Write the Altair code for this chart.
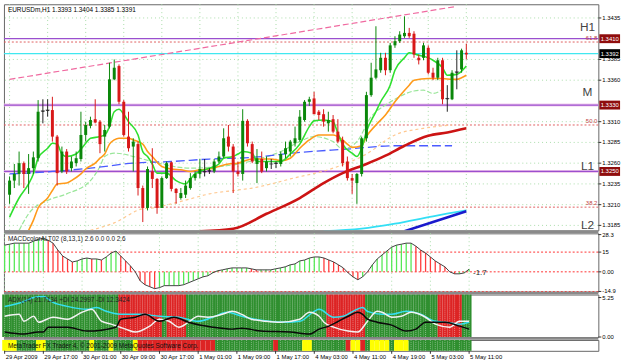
import altair as alt
import pandas as pd

# ---------------- data ----------------
opens = [1.3222,1.3239,1.3247,1.3260,1.3247,1.3254,1.3266,1.3322,1.3323,1.3324,
         1.3292,1.3250,1.3274,1.3254,1.3260,1.3265,1.3294,1.3305,1.3313,1.3310,
         1.3292,1.3304,1.3361,1.3377,1.3334,1.3292,1.3280,1.3283,1.3230,1.3206,
         1.3250,1.3241,1.3206,1.3242,1.3261,1.3229,1.3218,1.3222,1.3230,1.3242,
         1.3247,1.3249,1.3250,1.3250,1.3262,1.3268,1.3292,1.3280,1.3250,1.3247,
         1.3311,1.3283,1.3259,1.3265,1.3254,1.3259,1.3259,1.3259,1.3271,1.3274,
         1.3284,1.3288,1.3312,1.3334,1.3338,1.3322,1.3319,1.3308,1.3313,1.3298,
         1.3288,1.3262,1.3242,1.3236,1.3247,1.3290,1.3342,1.3363,1.3372,1.3387,
         1.3372,1.3402,1.3407,1.3413,1.3417,1.3416,1.3387,1.3387,1.3399,1.3369,
         1.3363,1.3384,1.3337,1.3337,1.3369,1.3373,1.3393]
highs = [1.3244,1.3259,1.3274,1.3262,1.3271,1.3274,1.3336,1.3337,1.3337,1.3340,
         1.3294,1.3280,1.3277,1.3268,1.3274,1.3322,1.3310,1.3316,1.3337,1.3312,
         1.3306,1.3381,1.3385,1.3379,1.3336,1.3322,1.3290,1.3286,1.3233,1.3256,
         1.3278,1.3242,1.3244,1.3262,1.3262,1.3230,1.3230,1.3239,1.3248,1.3250,
         1.3265,1.3265,1.3254,1.3265,1.3274,1.3302,1.3306,1.3283,1.3262,1.3325,
         1.3313,1.3286,1.3277,1.3274,1.3268,1.3265,1.3262,1.3274,1.3286,1.3288,
         1.3304,1.3324,1.3336,1.3340,1.3346,1.3324,1.3325,1.3322,1.3318,1.3313,
         1.3292,1.3268,1.3247,1.3248,1.3292,1.3346,1.3381,1.3425,1.3393,1.3393,
         1.3405,1.3413,1.3419,1.3437,1.3423,1.3419,1.3391,1.3405,1.3402,1.3375,
         1.3387,1.3387,1.3354,1.3372,1.3396,1.3398,1.3404]
lows = [1.3211,1.3230,1.3233,1.3230,1.3223,1.3247,1.3262,1.3308,1.3316,1.3286,
        1.3233,1.3248,1.3247,1.3250,1.3256,1.3262,1.3286,1.3302,1.3308,1.3272,
        1.3274,1.3302,1.3360,1.3331,1.3292,1.3274,1.3250,1.3221,1.3189,1.3203,
        1.3230,1.3199,1.3206,1.3241,1.3226,1.3211,1.3216,1.3218,1.3228,1.3239,
        1.3242,1.3244,1.3247,1.3248,1.3260,1.3266,1.3274,1.3224,1.3244,1.3239,
        1.3280,1.3260,1.3236,1.3248,1.3250,1.3253,1.3254,1.3256,1.3266,1.3268,
        1.3280,1.3286,1.3310,1.3329,1.3319,1.3312,1.3304,1.3298,1.3296,1.3284,
        1.3256,1.3239,1.3223,1.3211,1.3244,1.3286,1.3340,1.3361,1.3369,1.3366,
        1.3369,1.3399,1.3405,1.3411,1.3411,1.3387,1.3379,1.3384,1.3367,1.3360,
        1.3360,1.3331,1.3322,1.3336,1.3349,1.3369,1.3385]
closes = [1.3239,1.3247,1.3260,1.3247,1.3254,1.3267,1.3322,1.3323,1.3324,1.3292,
          1.3248,1.3274,1.3250,1.3262,1.3266,1.3294,1.3306,1.3312,1.3309,1.3283,
          1.3300,1.3361,1.3375,1.3334,1.3294,1.3278,1.3286,1.3230,1.3206,1.3253,
          1.3241,1.3206,1.3242,1.3260,1.3229,1.3224,1.3224,1.3233,1.3242,1.3247,
          1.3253,1.3250,1.3251,1.3262,1.3268,1.3290,1.3280,1.3250,1.3247,1.3311,
          1.3284,1.3262,1.3266,1.3250,1.3262,1.3259,1.3260,1.3271,1.3278,1.3286,
          1.3290,1.3316,1.3334,1.3337,1.3319,1.3318,1.3310,1.3312,1.3298,1.3286,
          1.3260,1.3242,1.3239,1.3247,1.3290,1.3342,1.3363,1.3373,1.3387,1.3372,
          1.3402,1.3407,1.3415,1.3417,1.3413,1.3391,1.3384,1.3402,1.3369,1.3363,
          1.3384,1.3337,1.3338,1.3369,1.3370,1.3396,1.3391]

x_labels = ["29 Apr 2009", "29 Apr 17:00", "30 Apr 01:00", "30 Apr 09:00", "30 Apr 17:00",
            "1 May 01:00", "1 May 09:00", "1 May 17:00", "4 May 03:00", "4 May 11:00",
            "4 May 19:00", "5 May 03:00", "5 May 11:00"]
x_label_bars = [0, 8, 16, 24, 32, 40, 48, 56, 64, 72, 80, 88, 96]
price_ticks = [1.3435, 1.3385, 1.3360, 1.3310, 1.3285, 1.3260, 1.3235, 1.3210, 1.3185]

# moving averages (sampled readings: bar index, price)
fast_bar = [0,2,4,5,6,8,9,10,11,12,14,15,16,17,19,20,21,22,23,24,25,27,28,29,30,31,33,35,37,38,
            39,40,42,44,45,47,48,49,51,52,54,57,59,61,63,64,66,68,69,70,72,73,74,75,77,78,80,81,83,84,
            86,88,89,91,92,94,96]
fast_val = [1.3195,1.3218,1.3235,1.3247,1.3266,1.3278,1.3284,1.3283,1.3271,1.3268,1.3271,1.3277,1.3284,1.3290,
            1.3292,1.3294,1.3304,1.3322,1.3325,1.3319,1.3310,1.3294,1.3274,1.3268,1.3259,1.3248,1.3248,1.3239,
            1.3235,1.3241,1.3247,1.3250,1.3254,1.3259,1.3266,1.3268,1.3271,1.3274,1.3272,1.3262,1.3262,1.3262,
            1.3271,1.3283,1.3304,1.3311,1.3312,1.3310,1.3296,1.3283,1.3272,1.3268,1.3278,1.3298,1.3322,1.3334,
            1.3354,1.3372,1.3387,1.3393,1.3390,1.3387,1.3384,1.3375,1.3366,1.3367,1.3377]
orange_bar = [4,5,6,8,9,10,12,13,15,16,18,19,20,21,22,23,25,26,28,29,30,32,34,36,38,40,42,44,46,48,
              49,51,53,55,57,59,61,63,65,67,68,70,71,72,74,75,77,79,81,84,85,88,91,93,94,95,96]
orange_val = [1.3179,1.3191,1.3206,1.3218,1.3227,1.3235,1.3236,1.3239,1.3247,1.3253,1.3260,1.3266,1.3271,
              1.3283,1.3288,1.3290,1.3290,1.3288,1.3283,1.3274,1.3268,1.3256,1.3253,1.3252,1.3250,1.3252,
              1.3253,1.3256,1.3259,1.3260,1.3262,1.3265,1.3265,1.3265,1.3263,1.3266,1.3278,1.3288,1.3294,
              1.3294,1.3294,1.3288,1.3283,1.3279,1.3281,1.3292,1.3306,1.3318,1.3334,1.3354,1.3360,1.3362,
              1.3362,1.3361,1.3361,1.3363,1.3366]
lgreen_bar = [2,4,8,12,17,19,20,22,24,26,28,32,38,42,49,53,57,61,64,68,70,73,76,79,81,85,87,89,91]
lgreen_val = [1.3179,1.3199,1.3215,1.3223,1.3239,1.3256,1.3268,1.3272,1.3271,1.3268,1.3265,1.3259,1.3254,
              1.3255,1.3260,1.3266,1.3274,1.3286,1.3292,1.3286,1.3277,1.3286,1.3316,1.3330,1.3337,1.3347,
              1.3348,1.3344,1.3349]
lorange_bar = [17,22,28,30,34,38,42,47,51,55,59,68,75,81,87,93]
lorange_val = [1.3179,1.3188,1.3205,1.3206,1.3211,1.3217,1.3223,1.3227,1.3230,1.3235,1.3241,1.3254,1.3271,
               1.3294,1.3302,1.3306]
red_bar = [40,47,54,61,66,70,75,79,83,88,92,96]
red_val = [1.3178,1.3181,1.3199,1.3218,1.3236,1.3248,1.3259,1.3269,1.3281,1.3293,1.3297,1.3302]
blue_bar = [0,9,17,26,34,42,51,61,71,81,93]
blue_val = [1.3247,1.3250,1.3254,1.3260,1.3262,1.3265,1.3267,1.3273,1.3277,1.3281,1.3281]
cyan_bar = [66,74,81,89,96]
cyan_val = [1.3178,1.3181,1.3187,1.3196,1.3203]
navy_bar = [83,89,96]
navy_val = [1.3178,1.3189,1.3202]
trend_bar = [0, 94]
trend_val = [1.3361, 1.3449]

level_names = ["H1", "61.8", "bid", "M", "50.0", "L1", "38.2"]
level_prices = [1.3410, 1.3406, 1.3392, 1.3330, 1.3306, 1.3250, 1.3207]
zone_names = ["H1", "M", "L1", "L2"]
zone_prices = [1.3424, 1.3346, 1.3256, 1.3185]
fib_names = ["61.8", "50.0", "38.2"]
fib_prices = [1.3406, 1.3306, 1.3207]
tag_text = ["1.3410", "1.3392", "1.3330", "1.3250"]
tag_kind = ["level", "bid", "level", "level"]

macd_vals = [20.3,21.0,21.8,21.8,21.8,21.8,23.3,24.8,25.5,24.0,
             21.8,16.5,12.0,9.8,7.5,8.3,9.8,10.5,9.8,9.8,
             9.0,11.3,14.3,15.8,12.0,8.3,4.5,0.0,-6.8,-9.8,
             -11.3,-12.8,-12.0,-10.5,-10.5,-10.5,-10.5,-9.8,-8.3,-6.8,
             -5.3,-3.8,-3.0,-0.8,0.8,1.5,2.3,3.0,3.0,3.0,
             3.0,2.3,1.5,1.5,1.5,1.5,2.3,3.0,3.8,5.3,
             6.0,8.3,9.0,10.5,11.3,11.3,10.5,9.0,7.5,5.3,
             3.0,-0.8,-3.8,-6.0,-3.8,0.0,5.3,9.8,12.8,15.8,
             18.8,20.3,21.0,21.8,21.8,19.5,16.5,14.3,11.3,8.3,
             6.0,3.8,0.0,-1.5,-1.5,-0.8,2.0]
macd_levels = [15, 0, -15]
macd_ticks = [28.3, 15, 0, -14.9]
macd_tick_text = ["28.3", "15", "0.00", "-14.9"]

adx_runs = [("G",24),("R",9),("G",1),("R",4),("G",29),("R",8),("G",15),("R",5),("G",2)]
cyan3_bar = [0,4,6,8,10,13,17,19,21,24,28,32,36,40,43,46,49,53,58,61,64,65,68,70,72,74,75,78,80,83,86,89,91,94,96]
cyan3_val = [4.07,4.73,5.26,5.39,4.60,4.07,3.68,3.94,3.42,3.02,3.02,2.76,2.63,2.10,2.63,3.29,2.76,2.23,1.97,2.10,
             3.42,3.68,2.63,2.76,3.42,3.94,3.42,3.02,3.02,3.42,3.02,2.10,1.97,1.71,1.97]
white3_bar = [0,3,4,6,7,10,13,16,18,20,22,25,27,30,32,34,36,38,40,42,45,47,49,51,54,57,61,63,65,66,
              68,71,73,75,77,78,80,82,84,87,89,92,94,96]
white3_val = [2.76,3.02,2.10,2.76,1.97,2.63,2.37,3.29,3.68,2.10,1.71,1.05,0.66,1.45,2.37,2.10,1.31,1.97,2.76,2.63,
              3.02,3.42,3.02,2.37,2.10,1.97,2.37,3.29,2.76,1.97,1.31,0.79,0.66,2.10,3.42,3.29,2.63,2.76,3.29,2.63,
              1.71,1.31,2.10,2.10]
black3_bar = [0,4,7,8,9,13,17,23,24,27,29,32,35,38,43,47,49,53,59,63,65,67,69,71,73,74,75,77,80,83,85,87,89,91,94,96]
black3_val = [0.66,0.39,0.66,0.66,1.31,1.31,0.79,1.31,2.37,2.63,3.02,2.10,2.63,1.97,1.31,1.05,1.18,0.79,0.66,0.39,
              1.05,1.45,2.10,2.76,3.29,3.02,2.37,1.97,1.58,0.79,1.05,1.97,1.97,1.97,1.45,1.05]
adx_ticks = [5.25, 0.0]
adx_tick_text = ["5.25", "0.00"]

trend_runs = [("Y",3),("G",4),("Y",2),("G",9),("Y",1),("G",3),("Y",1),("G",4),("Y",1),("R",16),("G",12),("R",1),
              ("G",5),("Y",2),("G",7),("R",1),("Y",2),("R",1),("G",1),("Y",4),("G",1),("Y",3),("G",13)]

symbol_title = "EURUSDm,H1"
macd_title = "MACDcolorALT02 (8,13,1) 2.6 0.0 0.0 2.6"
adx_title = "ADX(14) 21.7134 +DI 24.2997 -DI 12.3424"
trend_title = "MetaTrader FX Trader 4, \u00a9 2001-2009 MetaQuotes Software Corp."
macd_last_label = "-1.7"

# ---------------- chart ----------------
FONT = "Liberation Sans Narrow, Liberation Sans, sans-serif"
FS = 6
FT = 6.5
W = 602
XDOM = [-0.143, 122.71]
PDOM = [1.3179, 1.34515]
xs = alt.Scale(domain=XDOM, nice=False, zero=False)
ys = alt.Scale(domain=PDOM, nice=False, zero=False)
GRID = "#a9dca9"
SEP = "#8a8a8a"
UP, DOWN, DOJI = "#0a870a", "#d81818", "#222222"
STATE_COL = {"G": "#2f8f2f", "R": "#dd2424", "Y": "#ffff00"}


def xq(field="i"):
    return alt.X(f"{field}:Q", scale=xs, axis=None)


def yq(field, scale=ys):
    return alt.Y(f"{field}:Q", scale=scale, axis=None)


def right_labels(values, texts, scale, fs=FS):
    d = pd.DataFrame({"v": values, "t": texts})
    tk = alt.Chart(d).mark_rule(color="#333", strokeWidth=1, clip=False).encode(
        x=alt.value(602), x2=alt.value(605), y=yq("v", scale))
    tx = alt.Chart(d).mark_text(font=FONT, fontSize=fs, color="#000", align="left",
                                baseline="middle", clip=False).encode(
        x=alt.value(606), y=yq("v", scale), text="t:N")
    return [tk, tx]


def separator(h):
    # grey band drawn in the gap under a panel
    return alt.Chart(pd.DataFrame({"k": [0]})).mark_rule(color=SEP, strokeWidth=2.5, clip=False).encode(
        x=alt.value(0), x2=alt.value(W), y=alt.value(h + 1.5))


n = len(opens)
idx = list(range(n))
df = pd.DataFrame({"i": idx, "o": opens, "h": highs, "l": lows, "c": closes})
df["col"] = [DOJI if abs(c - o) < 0.00015 else (UP if c > o else DOWN) for o, c in zip(opens, closes)]
df["doji"] = [abs(c - o) < 0.00015 for o, c in zip(opens, closes)]

vgrid = alt.Chart(pd.DataFrame({"i": x_label_bars})).mark_rule(
    color=GRID, strokeDash=[1, 3], strokeWidth=1).encode(x=xq())
hgrid = alt.Chart(pd.DataFrame({"p": price_ticks})).mark_rule(
    color=GRID, strokeDash=[1, 3], strokeWidth=1).encode(y=yq("p"))

wicks = alt.Chart(df).mark_rule(strokeWidth=1).encode(
    x=xq(), y=yq("l"), y2="h:Q", color=alt.Color("col:N", scale=None))
bodies = alt.Chart(df).mark_bar(size=3, orient="vertical").encode(
    x=xq(), y=yq("o"), y2="c:Q", color=alt.Color("col:N", scale=None))
dojis = alt.Chart(df).transform_filter("datum.doji").mark_tick(
    thickness=1, size=4, orient="horizontal", color=DOJI).encode(x=xq(), y=yq("c"))


def line_layer(bars, vals, color, width, dash=None, opacity=1.0):
    d = pd.DataFrame({"i": bars, "p": vals})
    kw = dict(color=color, strokeWidth=width, clip=True, interpolate="monotone", opacity=opacity)
    if dash:
        kw["strokeDash"] = dash
    return alt.Chart(d).mark_line(**kw).encode(x=xq(), y=yq("p"))


lv = pd.DataFrame({"name": level_names, "p": level_prices})


def level_rule(names, color, width, dash=None, opacity=1.0):
    kw = dict(color=color, strokeWidth=width, opacity=opacity)
    if dash:
        kw["strokeDash"] = dash
    return alt.Chart(lv).transform_filter(
        alt.FieldOneOfPredicate(field="name", oneOf=names)).mark_rule(**kw).encode(y=yq("p"))


halo = level_rule(["M", "L1"], "#efc4ea", 3, opacity=0.9)
purple = level_rule(["H1", "M", "L1"], "#9a4fcf", 1.2)
fibs = level_rule(["61.8", "50.0", "38.2"], "#e06060", 1, dash=[2, 2])
bid = level_rule(["bid"], "#40e8f0", 1.2)

trend = line_layer(trend_bar, trend_val, "#f06aa0", 1.2, dash=[6, 3])
lorange = line_layer(lorange_bar, lorange_val, "#ffc890", 1.2, dash=[3, 3])
lgreen = line_layer(lgreen_bar, lgreen_val, "#99e699", 1.2, dash=[5, 2])
blue = line_layer(blue_bar, blue_val, "#4a5cff", 1.3, dash=[9, 4])
red = line_layer(red_bar, red_val, "#cc1414", 2.6)
cyan = line_layer(cyan_bar, cyan_val, "#33dff5", 1.8)
navy = line_layer(navy_bar, navy_val, "#1a1acc", 2.6)
orange = line_layer(orange_bar, orange_val, "#ff9a1a", 1.6)
fast = line_layer(fast_bar, fast_val, "#2fe02f", 1.6)

zones = alt.Chart(pd.DataFrame({"t": zone_names, "p": zone_prices})).mark_text(
    font="Liberation Sans", fontSize=12, color="#444", align="center", baseline="middle").encode(
    x=alt.value(591), y=yq("p"), text="t:N")
fibtxt = alt.Chart(pd.DataFrame({"t": fib_names, "p": fib_prices})).mark_text(
    font=FONT, fontSize=FS, color="#c04040", align="right", baseline="bottom", dy=-1).encode(
    x=alt.value(601), y=yq("p"), text="t:N")
tags = pd.DataFrame({"t": tag_text, "kind": tag_kind})
tags["p"] = [float(t) for t in tag_text]
tags["bg"] = ["#000000" if k == "bid" else "#8f0d0d" for k in tag_kind]
tag_bg = alt.Chart(tags).mark_rule(strokeWidth=9, clip=False).encode(
    x=alt.value(603), x2=alt.value(624), y=yq("p"), color=alt.Color("bg:N", scale=None))
tag_tx = alt.Chart(tags).mark_text(font=FONT, fontSize=FS, color="white", align="center",
                                   baseline="middle", clip=False).encode(
    x=alt.value(613.5), y=yq("p"), text="t:N")
title_txt = alt.Chart(pd.DataFrame({"t": [f"{symbol_title}  {opens[-1]:.4f} {highs[-1]:.4f} {lows[-1]:.4f} {closes[-1]:.4f}"]})).mark_text(
    font=FONT, fontSize=FT, color="#000", align="left", baseline="middle").encode(
    x=alt.value(4), y=alt.value(6), text="t:N")

H_MAIN, H_MACD, H_ADX, H_TR = 229, 59, 43, 11

main = alt.layer(vgrid, hgrid, halo, purple, fibs, bid, trend, lorange, lgreen, blue, red, cyan, navy,
                 orange, fast, wicks, bodies, dojis, zones, fibtxt,
                 *right_labels(price_ticks, [f"{p:.4f}" for p in price_ticks], ys),
                 tag_bg, tag_tx, title_txt, separator(H_MAIN)).properties(width=W, height=H_MAIN)

# MACD panel
mscale = alt.Scale(domain=[-15, 29.25], nice=False, zero=False)
mdf = pd.DataFrame({"i": idx, "v": macd_vals})
mdf["z"] = 0.0
mdf["col"] = ["#55e855" if k == 0 or macd_vals[k] >= macd_vals[k - 1] else "#ff3a3a" for k in range(n)]
mgrid = alt.Chart(pd.DataFrame({"i": x_label_bars})).mark_rule(
    color=GRID, strokeDash=[1, 3], strokeWidth=1).encode(x=xq())
hist = alt.Chart(mdf).mark_rule(strokeWidth=1.3).encode(
    x=xq(), y=yq("v", mscale), y2="z:Q", color=alt.Color("col:N", scale=None))
mline = alt.Chart(mdf).mark_line(color="#404040", strokeWidth=1).encode(x=xq(), y=yq("v", mscale))
mlev = alt.Chart(pd.DataFrame({"v": macd_levels})).mark_rule(
    color="#ff3030", strokeDash=[2, 2], strokeWidth=1).encode(y=yq("v", mscale))
mtitle = alt.Chart(pd.DataFrame({"t": [macd_title]})).mark_text(
    font=FONT, fontSize=FT, color="#222", align="left", baseline="middle").encode(
    x=alt.value(4), y=alt.value(6), text="t:N")
mlast = alt.Chart(pd.DataFrame({"t": [macd_last_label], "i": [n - 1], "v": [macd_vals[-1]]})).mark_text(
    font="Liberation Sans", fontSize=8, color="#222", align="left", baseline="middle", dx=4, dy=4).encode(
    x=xq(), y=yq("v", mscale), text="t:N")
macd = alt.layer(mgrid, mlev, hist, mline, mtitle, mlast,
                 *right_labels(macd_ticks, macd_tick_text, mscale),
                 separator(H_MACD)).properties(width=W, height=H_MACD)


# ADX-like panel
def expand(runs):
    out = []
    for s, k in runs:
        out += [s] * k
    return out


adf = pd.DataFrame({"i": idx, "s": expand(adx_runs)})
adf["col"] = [STATE_COL[s] for s in adf["s"]]
ascale = alt.Scale(domain=[0, 5.65], nice=False, zero=False)
acol = alt.Chart(adf).transform_calculate(a="datum.i - 0.5", b="datum.i + 0.5").mark_rect().encode(
    x=xq("a"), x2="b:Q", y=alt.value(0), y2=alt.value(H_ADX), color=alt.Color("col:N", scale=None))
astripe = alt.Chart(adf).mark_rule(color="white", strokeWidth=0.8, strokeDash=[1, 1], opacity=0.55).encode(
    x=xq(), y=alt.value(0), y2=alt.value(H_ADX))
acyan = alt.Chart(pd.DataFrame({"i": cyan3_bar, "v": cyan3_val})).mark_line(
    color="#33e0f0", strokeWidth=1.5, interpolate="monotone").encode(x=xq(), y=yq("v", ascale))
awhite = alt.Chart(pd.DataFrame({"i": white3_bar, "v": white3_val})).mark_line(
    color="#f2f2f2", strokeWidth=1.5, interpolate="monotone").encode(x=xq(), y=yq("v", ascale))
ablack = alt.Chart(pd.DataFrame({"i": black3_bar, "v": black3_val})).mark_line(
    color="#0a0a0a", strokeWidth=1.5, interpolate="monotone").encode(x=xq(), y=yq("v", ascale))
atitle = alt.Chart(pd.DataFrame({"t": [adx_title]})).mark_text(
    font=FONT, fontSize=FT, color="#222", align="left", baseline="middle").encode(
    x=alt.value(4), y=alt.value(6), text="t:N")
adx = alt.layer(acol, astripe, acyan, awhite, ablack, atitle,
                *right_labels(adx_ticks, adx_tick_text, ascale),
                separator(H_ADX)).properties(width=W, height=H_ADX)

# trend panel
tdf = pd.DataFrame({"i": idx, "s": expand(trend_runs)})
tdf["col"] = [STATE_COL[s] for s in tdf["s"]]
tcol = alt.Chart(tdf).transform_calculate(a="datum.i - 0.5", b="datum.i + 0.5").mark_rect().encode(
    x=xq("a"), x2="b:Q", y=alt.value(0), y2=alt.value(H_TR), color=alt.Color("col:N", scale=None))
tstripe = alt.Chart(tdf).transform_filter("datum.s == 'G'").mark_rule(
    color="white", strokeWidth=0.8, strokeDash=[1, 1], opacity=0.5).encode(
    x=xq(), y=alt.value(0), y2=alt.value(H_TR))
ttitle = alt.Chart(pd.DataFrame({"t": [trend_title]})).mark_text(
    font=FONT, fontSize=FT, color="#111", align="left", baseline="middle").encode(
    x=alt.value(4), y=alt.value(6), text="t:N")
xl = pd.DataFrame({"i": x_label_bars, "t": x_labels})
xticks = alt.Chart(xl).mark_rule(color="#333", strokeWidth=1, clip=False).encode(
    x=xq(), y=alt.value(H_TR), y2=alt.value(H_TR + 3))
xtext = alt.Chart(xl).mark_text(font=FONT, fontSize=FS, color="#000", align="left", baseline="middle",
                                clip=False, dx=1).encode(x=xq(), y=alt.value(H_TR + 6), text="t:N")
trendp = alt.layer(tcol, tstripe, ttitle, xticks, xtext).properties(width=W, height=H_TR)

chart = alt.vconcat(main, macd, adx, trendp, spacing=3, bounds="flush").properties(
    padding={"left": 1, "top": 1, "right": 0, "bottom": 0},
    background="white",
).configure_view(stroke="#666", strokeWidth=1).configure_text(font=FONT)

chart.save("out.html", embed_options={"renderer": "svg", "actions": False})
